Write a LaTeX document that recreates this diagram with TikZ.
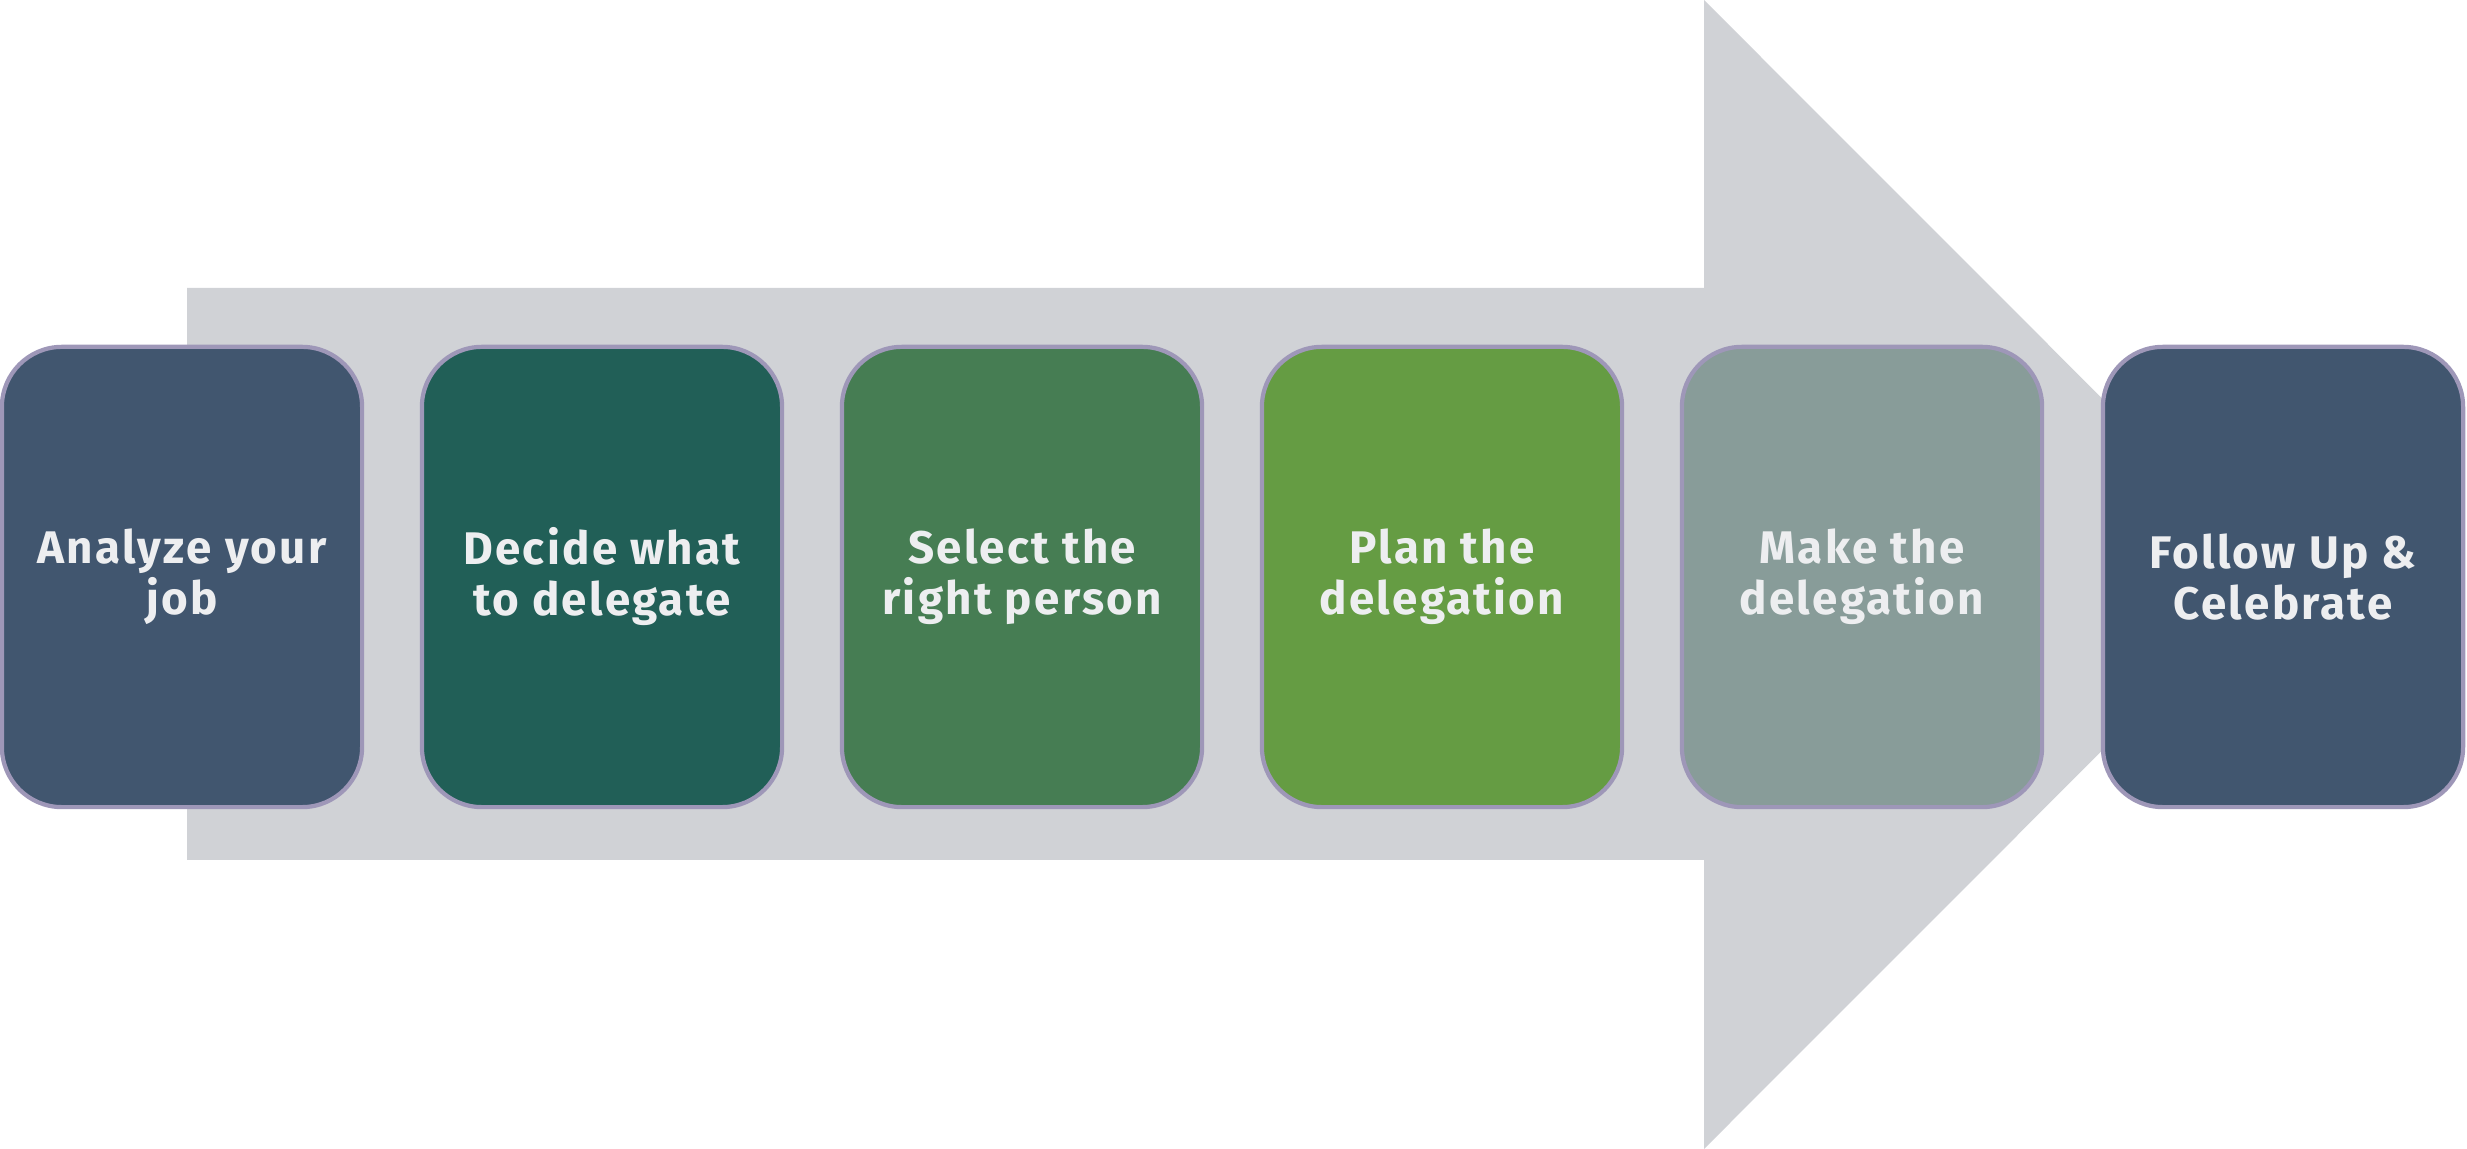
\documentclass[tikz,border=0pt]{standalone}
\usepackage{fontspec}
\setmainfont{Fira Sans}
\newfontfamily\boxfont[LetterSpace=5]{Fira Sans}
\definecolor{arrowgray}{HTML}{D0D2D6}
\definecolor{edgepurple}{HTML}{9E97B8}
\definecolor{labelwhite}{HTML}{EDEEF0}
\definecolor{slateblue}{HTML}{41566F}
\definecolor{deepteal}{HTML}{215F57}
\definecolor{forestgreen}{HTML}{467D53}
\definecolor{leafgreen}{HTML}{659C43}
\definecolor{sagegray}{HTML}{889C99}
\tikzset{
  stepbox/.style={draw=edgepurple, line width=1.2pt, rounded corners=0.6cm,
    minimum width=3.6cm, minimum height=4.6cm, align=center,
    text=labelwhite, font=\boxfont\fontsize{13}{14.5}\selectfont\bfseries}
}
\begin{document}
\begin{tikzpicture}[x=0.01cm, y=0.01cm]
    \useasboundingbox (0, 0) rectangle (2467, 1149);

    \fill [arrowgray] (187, 289) -- (1704, 289) -- (1704, 0) -- (2278, 574.5)
      -- (1704, 1149) -- (1704, 861) -- (187, 861) -- cycle;

    \node [stepbox, fill=slateblue] (analyze) at (182, 572) {Analyze your\\job};
    \node [stepbox, fill=deepteal] (decide) at (602, 572) {Decide what\\to delegate};
    \node [stepbox, fill=forestgreen] (select) at (1022, 572) {Select the\\right person};
    \node [stepbox, fill=leafgreen] (plan) at (1442, 572) {Plan the\\delegation};
    \node [stepbox, fill=sagegray] (make) at (1862, 572) {Make the\\delegation};
    \node [stepbox, fill=slateblue] (follow) at (2283, 572) {Follow Up \&\\Celebrate};
  \end{tikzpicture}
\end{document}
